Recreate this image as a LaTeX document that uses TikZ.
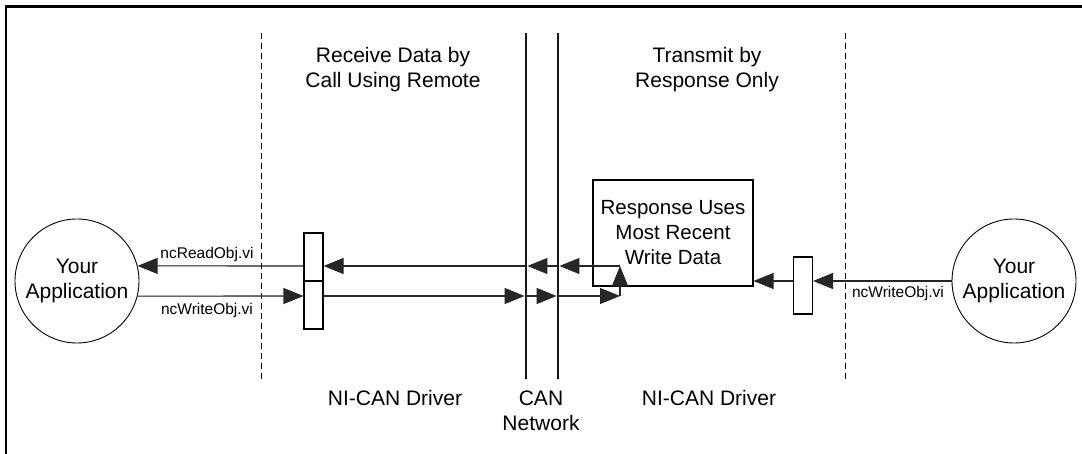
\documentclass[tikz,border=0pt]{standalone}
\usepackage{fontspec}
\setmainfont{Liberation Sans}
\usetikzlibrary{arrows.meta}

\begin{document}
\begin{tikzpicture}[x=1pt, y=-1pt, >={Triangle[length=20pt,width=16pt]}, font=\fontsize{21}{25}\selectfont]
	\tikzset{app/.style={draw, circle, minimum size=124pt, inner sep=0pt, align=center, line width=0.9pt},
		slot/.style={draw, minimum width=19pt, inner sep=0pt, line width=1.1pt},
		wire/.style={line width=1.1pt, draw=black!85, fill=black},
		bus/.style={line width=2.8pt, draw=black!90},
		border/.style={dash pattern=on 6pt off 4pt, line width=0.9pt},
		vilabel/.style={font=\fontsize{15.5}{18}\selectfont, inner sep=0pt}}
	\useasboundingbox (0,0) rectangle (1082,454);
	\draw[line width=2.2pt] (6,454) -- (6,6.5) -- (1082,6.5);
	% zones
	\draw[border] (261,33) -- (261,379);
	\draw[border] (845,33) -- (845,379);
	\coordinate (can1) at (526,33);
	\coordinate (can2) at (558,33);
	\draw[bus] (can1) -- (526,379);
	\draw[bus] (can2) -- (558,379);
	\node[align=center] (recvtitle) at (393,70) {Receive Data by\\Call Using Remote};
	\node[align=center] (xmittitle) at (707,70) {Transmit by\\Response Only};
	\node (drvL) at (395,398) {NI-CAN Driver};
	\node[align=center] (network) at (541,411) {CAN\\Network};
	\node (drvR) at (709,398) {NI-CAN Driver};
	% applications and objects
	\node[app] (appL) at (77,281) {Your\\Application\\[-20pt]};
	\node[app] (appR) at (1014,281) {Your\\Application\\[-20pt]};
	\node[slot, minimum height=48pt] (objRd) at (313.5,257) {};
	\node[slot, minimum height=48pt] (objWr) at (313.5,305) {};
	\node[slot, minimum height=57pt] (objR) at (803,285.5) {};
	\node[draw, line width=1.1pt, minimum width=160pt, minimum height=106pt, align=center, inner sep=0pt, font=\fontsize{20.5}{25}\selectfont] (resp) at (673,233) {Response Uses\\Most Recent\\Write Data};
	\coordinate (turn) at (620,296);
	\coordinate (turnup) at (620,266);
	% left side
	\draw[wire,->] (appL.-14) -- (objWr.west |- turn);
	\draw[wire,->] (objWr.east |- turn) -- ([xshift=-1.4pt]can1 |- turn);
	\draw[wire,->] (can1 |- turn) -- ([xshift=-1.4pt]can2 |- turn);
	\draw[wire,->] (can2 |- turn) -- (turn);
	\draw[wire,->] (turn) -- (turnup);
	\draw[wire,->] (turnup) -- ([xshift=1.4pt]can2 |- turnup);
	\draw[wire,->] (can2 |- turnup) -- ([xshift=1.4pt]can1 |- turnup);
	\draw[wire,->] (can1 |- turnup) -- (objRd.east |- turnup);
	\draw[wire,->] (objRd.west |- turnup) -- (appL.14);
	\node[vilabel] (rdlabel) at (207,254) {ncReadObj.vi};
	\node[vilabel] (wrlabelL) at (207,310) {ncWriteObj.vi};
	% right side
	\draw[wire,->] (appR.west) -- (appR.west -| objR.east);
	\draw[wire,->] (objR.west |- appR.west) -- (resp.east |- appR.west);
	\node[vilabel] (wrlabelR) at (898,293) {ncWriteObj.vi};
\end{tikzpicture}
\end{document}
